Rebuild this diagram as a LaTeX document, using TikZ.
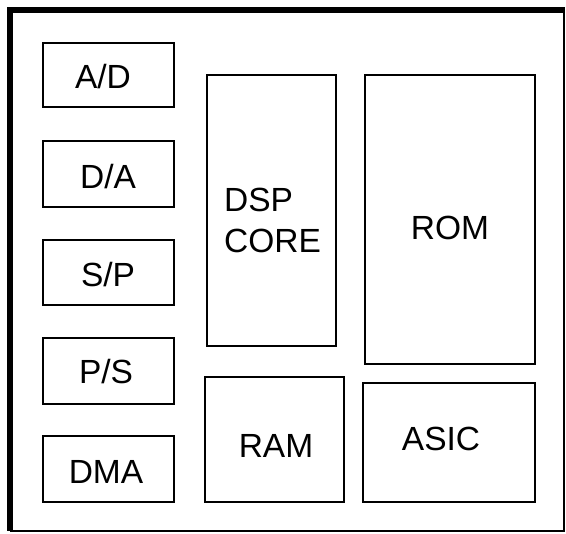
\documentclass[tikz,border=0pt]{standalone}
\usepackage{fontspec}
\setmainfont{Liberation Sans}
\begin{document}
\begin{tikzpicture}[x=1pt,y=-1pt,
  box/.style={draw=black,line width=2pt,inner sep=0pt},
  lbl/.style={inner sep=0pt,font=\fontsize{33.5}{38}\selectfont,anchor=base}]
\useasboundingbox (0,0) rectangle (566,534);
\fill[white] (0,0) rectangle (566,534);
% outer frame
\draw[line width=2pt] (10,10) -- (564,10) -- (564,531) -- (10,531);
\draw[line width=6pt] (10,531) -- (10,10) -- (565,10);
% boxes
\newcommand{\mybox}[5]{\node[box,minimum width={#4-#2},minimum height={#5-#3}] (#1) at ({(#2+#4)/2},{(#3+#5)/2}) {};}
\mybox{ad}{43}{43}{174}{107}
\mybox{da}{43}{141}{174}{207}
\mybox{sp}{43}{240}{174}{305}
\mybox{ps}{43}{338}{174}{404}
\mybox{dma}{43}{436}{174}{502}
\mybox{dsp}{207}{75}{336}{346}
\mybox{rom}{365}{75}{535}{364}
\mybox{ram}{205}{377}{344}{502}
\mybox{asic}{363}{383}{535}{502}
% labels
\node[lbl] (tad) at (103,89) {A/D};
\node[lbl] (tda) at (108,189) {D/A};
\node[lbl] (tsp) at (108,287) {S/P};
\node[lbl] (tps) at (106,384) {P/S};
\node[lbl] (tdma) at (106,484) {DMA};
\node[lbl,anchor=base west] (tdsp) at (224,212) {DSP};
\node[lbl,anchor=base west] (tcore) at (224,253) {CORE};
\node[lbl] (trom) at (450,240) {ROM};
\node[lbl] (tram) at (276,458) {RAM};
\node[lbl] (tasic) at (441,451) {ASIC};
\end{tikzpicture}
\end{document}
